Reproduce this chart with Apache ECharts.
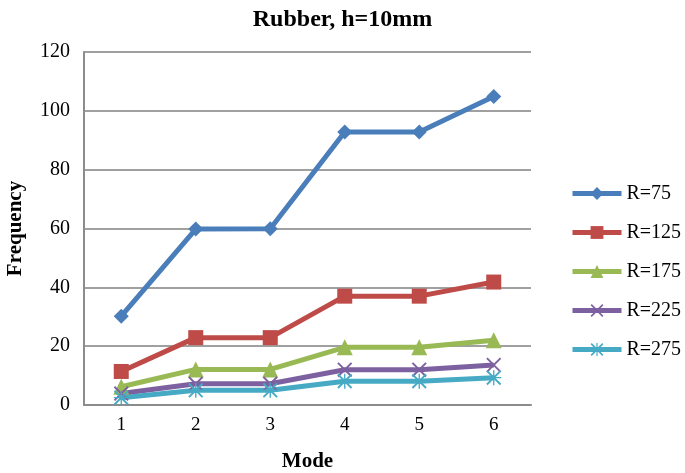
<!DOCTYPE html>
<html>
<head>
<meta charset="utf-8">
<script src="https://cdn.jsdelivr.net/npm/echarts@6/dist/echarts.min.js"></script>
<style>
  html, body { margin: 0; padding: 0; background: #fff; }
  #chart { width: 685px; height: 473px; }
</style>
</head>
<body>
<div id="chart"></div>
<script>
// data
var modes = ['1', '2', '3', '4', '5', '6'];
var seriesNames = ['R=75', 'R=125', 'R=175', 'R=225', 'R=275'];
var r75  = [30.2, 59.8, 59.9, 92.8, 92.8, 104.9];
var r125 = [11.4, 22.9, 22.9, 37, 37, 41.8];
var r175 = [6.2, 12.1, 12.1, 19.6, 19.6, 22];
var r225 = [3.9, 7.2, 7.2, 12, 12, 13.6];
var r275 = [2.5, 5, 5, 8.1, 8.1, 9.3];

var colors = ['#4a7ebb', '#be4b48', '#98b954', '#7d60a0', '#46aac5'];
var serif = '"Liberation Serif", "Times New Roman", serif';

// x and asterisk markers
var xPath = 'path://M0 0.9L0.9 0L10 9.1L9.1 10Z M9.1 0L10 0.9L0.9 10L0 9.1Z';
var starPath = 'path://M0 0.9L0.9 0L10 9.1L9.1 10Z M9.1 0L10 0.9L0.9 10L0 9.1Z M4.55 0L5.45 0L5.45 10L4.55 10Z M0 4.55L10 4.55L10 5.45L0 5.45Z';

var chart = echarts.init(document.getElementById('chart'));

function mkSeries(name, data, color, symbol, size) {
    return {
        name: name,
        type: 'line',
        data: data,
        symbol: symbol,
        symbolSize: size,
        showAllSymbol: true,
        lineStyle: { color: color, width: 5 },
        itemStyle: { color: color },
        animation: false
    };
}

var option = {
    title: {
        text: 'Rubber, h=10mm',
        left: 'center',
        top: 3,
        textStyle: { fontFamily: serif, fontSize: 24, fontWeight: 'bold', color: '#000' }
    },
    legend: {
        orient: 'vertical',
        left: 565,
        top: 178,
        itemWidth: 49,
        itemHeight: 16,
        itemGap: 18,
        data: seriesNames,
        lineStyle: { width: 5 },
        textStyle: { fontFamily: serif, fontSize: 20, color: '#000', lineHeight: 21 }
    },
    grid: { left: 84, right: 154, top: 52, bottom: 68, outerBoundsMode: 'none' },
    xAxis: {
        type: 'category',
        data: modes,
        boundaryGap: true,
        name: 'Mode',
        nameLocation: 'middle',
        nameGap: 46,
        nameTextStyle: { fontFamily: serif, fontSize: 21, fontWeight: 'bold', color: '#000' },
        axisLine: { lineStyle: { color: '#8c8c8c', width: 2 } },
        axisTick: { show: false },
        axisLabel: { fontFamily: serif, fontSize: 19, color: '#000', margin: 11 }
    },
    yAxis: {
        type: 'value',
        min: 0,
        max: 120,
        interval: 20,
        name: 'Frequency',
        nameLocation: 'middle',
        nameGap: 58,
        nameTextStyle: { fontFamily: serif, fontSize: 21, fontWeight: 'bold', color: '#000' },
        axisLine: { show: true, lineStyle: { color: '#8c8c8c', width: 2 } },
        axisTick: { show: false },
        splitLine: { lineStyle: { color: '#a0a0a0', width: 2 } },
        axisLabel: { fontFamily: serif, fontSize: 20, color: '#000', margin: 14 }
    },
    series: [
        mkSeries(seriesNames[0], r75, colors[0], 'diamond', 15),
        mkSeries(seriesNames[1], r125, colors[1], 'rect', 15),
        mkSeries(seriesNames[2], r175, colors[2], 'triangle', 16),
        mkSeries(seriesNames[3], r225, colors[3], xPath, 15),
        mkSeries(seriesNames[4], r275, colors[4], starPath, 15)
    ]
};

chart.setOption(option);
</script>
</body>
</html>
